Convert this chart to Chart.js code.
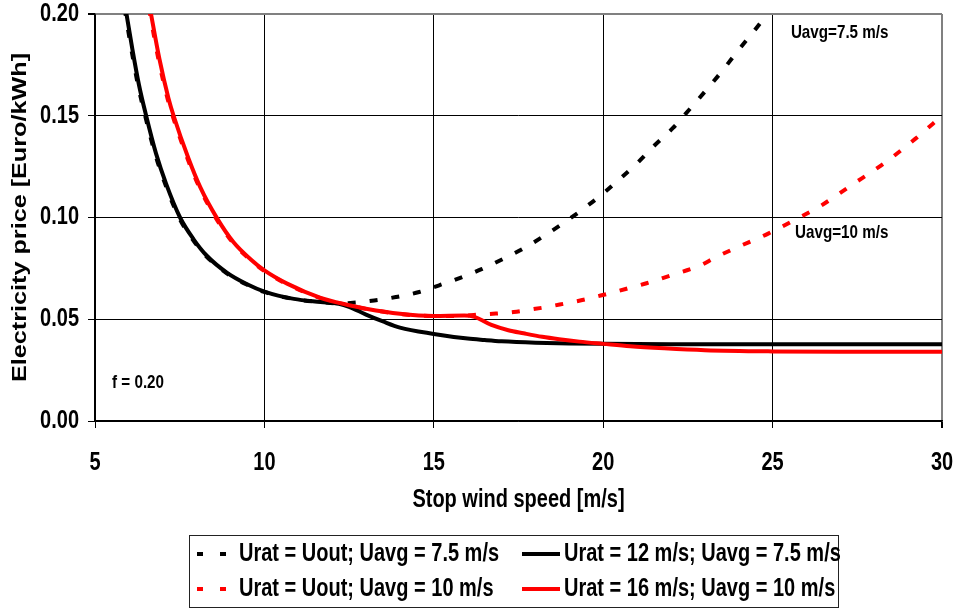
<!DOCTYPE html>
<html>
<head>
<meta charset="utf-8">
<title>Electricity price vs stop wind speed</title>
<script src="https://cdn.jsdelivr.net/npm/chart.js@4.4.1/dist/chart.umd.min.js"></script>
<style>
  body { margin: 0; background: #fff; }
  #wrap { width: 954px; height: 612px; }
</style>
</head>
<body>
<div id="wrap"><canvas id="myChart" width="954" height="612"></canvas></div>
<script>
var face = '"Liberation Sans", Arial, sans-serif';

var seriesLabels = [
  'Urat = Uout; Uavg = 7.5 m/s',
  'Urat = 12 m/s; Uavg = 7.5 m/s',
  'Urat = Uout; Uavg = 10 m/s',
  'Urat = 16 m/s; Uavg = 10 m/s'
];

var xTicks = [5, 10, 15, 20, 25, 30];
var yTicks = [0, 0.05, 0.10, 0.15, 0.20];

// Urat = Uout, Uavg = 7.5 m/s
var speedOut75 = [5.87, 6.07, 6.27, 6.48, 6.77, 7.07, 7.48, 7.88, 8.27, 8.87, 9.46, 9.97, 10.85, 11.64, 12.2, 12.54, 13.24, 13.88, 14.57, 15.16, 15.8, 16.41, 17.03, 17.65, 18.24, 18.83, 19.4, 19.96, 20.48, 21.02, 21.52, 22.06, 22.55, 23.04, 23.53, 23.98, 24.47, 24.75];
var priceOut75 = [0.203, 0.183, 0.165, 0.15, 0.1315, 0.1165, 0.1, 0.0893, 0.0812, 0.0728, 0.0672, 0.0636, 0.06, 0.0585, 0.0578, 0.058, 0.0592, 0.0609, 0.0634, 0.0667, 0.0705, 0.0746, 0.0795, 0.0848, 0.0908, 0.0973, 0.1041, 0.1113, 0.1188, 0.127, 0.1355, 0.144, 0.1532, 0.1626, 0.1724, 0.182, 0.192, 0.198];

// Urat = 12 m/s, Uavg = 7.5 m/s
var speed12 = [5.9, 6.1, 6.3, 6.51, 6.8, 7.1, 7.51, 7.91, 8.3, 8.9, 9.49, 10, 10.87, 11.66, 12.2, 12.5, 13, 13.5, 14, 15, 16, 16.5, 17, 18, 19, 20, 22, 25, 30];
var price12 = [0.203, 0.183, 0.165, 0.15, 0.1315, 0.1165, 0.1, 0.0893, 0.0812, 0.0728, 0.0672, 0.0636, 0.06, 0.0585, 0.0576, 0.0561, 0.0523, 0.0489, 0.0459, 0.0428, 0.0405, 0.0398, 0.0392, 0.0385, 0.0381, 0.0379, 0.0377, 0.0377, 0.0377];

// Urat = Uout, Uavg = 10 m/s
var speedOut10 = [6.59, 6.87, 7.14, 7.29, 7.73, 8.08, 8.57, 9.06, 9.56, 9.97, 10.64, 11.63, 12.5, 13, 14, 15, 15.9, 16.34, 16.83, 17.36, 17.87, 18.36, 18.86, 19.35, 19.84, 20.34, 20.78, 21.28, 22.0, 22.83, 23.34, 23.88, 24.87, 25.86, 26.35, 27.34, 28.32, 29.2, 30];
var priceOut10 = [0.203, 0.178, 0.1585, 0.15, 0.129, 0.1148, 0.0997, 0.0878, 0.0795, 0.074, 0.0675, 0.0605, 0.0568, 0.0551, 0.0526, 0.0516, 0.0518, 0.0523, 0.0528, 0.0536, 0.0548, 0.0561, 0.0577, 0.0593, 0.0613, 0.0634, 0.0654, 0.0677, 0.0716, 0.0762, 0.0806, 0.0848, 0.0921, 0.1006, 0.105, 0.116, 0.127, 0.1385, 0.15];

// Urat = 16 m/s, Uavg = 10 m/s
var speed16 = [6.62, 6.9, 7.17, 7.32, 7.76, 8.11, 8.6, 9.09, 9.59, 10, 10.67, 11.66, 12.5, 13, 14, 15, 15.9, 16.2, 16.7, 17.2, 17.65, 18.2, 18.7, 19.3, 20, 20.8, 21.8, 23, 25, 27, 30];
var price16 = [0.203, 0.178, 0.1585, 0.15, 0.129, 0.1148, 0.0997, 0.0878, 0.0795, 0.074, 0.0675, 0.0605, 0.0569, 0.0552, 0.0527, 0.0516, 0.0518, 0.0512, 0.0472, 0.0446, 0.0431, 0.0414, 0.0402, 0.039, 0.0379, 0.0367, 0.0357, 0.0348, 0.0342, 0.034, 0.034];

function pts(xs, ys) {
  var out = [];
  for (var i = 0; i < xs.length; i++) out.push({x: xs[i], y: ys[i]});
  return out;
}

// bold text squeezed sideways, the axis labels use a condensed look
function squeezed(c, text, x, y, size, align, sx) {
  c.save();
  c.translate(x, y);
  c.scale(sx, 1);
  c.font = 'bold ' + size + 'px ' + face;
  c.textAlign = align;
  c.textBaseline = 'middle';
  c.fillStyle = '#000';
  c.fillText(text, 0, 0);
  c.restore();
}

// text notes inside the plot, placed in data units
var notes = [
  {text: 'Uavg=7.5 m/s', x: 26.98, y: 0.191},
  {text: 'Uavg=10 m/s', x: 27.04, y: 0.0923},
  {text: 'f = 0.20', x: 6.27, y: 0.019}
];

var extras = {
  id: 'extras',
  afterDraw: function(chart) {
    var c = chart.ctx, xs = chart.scales.x, ys = chart.scales.y;
    var area = chart.chartArea;

    xTicks.forEach(function(v) {
      squeezed(c, String(v), xs.getPixelForValue(v), area.bottom + 42, 25, 'center', 0.8);
    });
    yTicks.forEach(function(v) {
      squeezed(c, v.toFixed(2), 79, ys.getPixelForValue(v), 25, 'right', 0.8);
    });
    squeezed(c, 'Stop wind speed [m/s]', (area.left + area.right) / 2, 500, 25, 'center', 0.8);

    notes.forEach(function(n) {
      squeezed(c, n.text, xs.getPixelForValue(n.x), ys.getPixelForValue(n.y), 19, 'center', 0.8);
    });

    // y axis title, stretched a bit along its length
    c.save();
    c.translate(20, (area.top + area.bottom) / 2);
    c.rotate(-Math.PI / 2);
    c.scale(1.2, 1);
    c.font = 'bold 21px ' + face;
    c.textAlign = 'center';
    c.textBaseline = 'middle';
    c.fillStyle = '#000';
    c.fillText('Electricity price [Euro/kWh]', 0, 0);
    c.restore();

    // legend box
    c.save();
    c.strokeStyle = '#222';
    c.lineWidth = 1;
    c.strokeRect(189.5, 535.5, 649, 72);
    var slots = [[197, 554], [522, 554], [197, 589], [522, 589]];
    chart.data.datasets.forEach(function(ds, i) {
      var sx = slots[i][0], sy = slots[i][1];
      c.beginPath();
      c.strokeStyle = ds.borderColor;
      c.lineWidth = 4;
      if (ds.borderDash) {
        c.setLineDash([6, 17]);
        c.moveTo(sx, sy); c.lineTo(sx + 30, sy);
      } else {
        c.setLineDash([]);
        c.moveTo(sx, sy); c.lineTo(sx + 38, sy);
      }
      c.stroke();
      c.setLineDash([]);
      squeezed(c, ds.label, ds.borderDash ? 239 : 564, sy, 25, 'left', 0.8);
    });
    c.restore();
  }
};

var ctx = document.getElementById('myChart');
var myChart = new Chart(ctx, {
  type: 'line',
  data: {
    datasets: [
      {label: seriesLabels[0], data: pts(speedOut75, priceOut75), borderColor: '#000000', borderDash: [8, 14], order: 3},
      {label: seriesLabels[1], data: pts(speed12, price12), borderColor: '#000000', order: 1},
      {label: seriesLabels[2], data: pts(speedOut10, priceOut10), borderColor: '#ff0000', borderDash: [8, 14], order: 2},
      {label: seriesLabels[3], data: pts(speed16, price16), borderColor: '#ff0000', order: 0}
    ]
  },
  options: {
    responsive: false,
    animation: false,
    events: [],
    elements: {
      point: {radius: 0},
      line: {borderWidth: 4, cubicInterpolationMode: 'monotone', borderCapStyle: 'butt', fill: false}
    },
    datasets: {line: {clip: 0}},
    layout: {padding: {top: 14, right: 12, left: 0, bottom: 0}},
    plugins: {legend: {display: false}, tooltip: {enabled: false}},
    scales: {
      x: {
        type: 'linear', min: 5, max: 30,
        afterBuildTicks: function(s) { s.ticks = xTicks.map(function(v) { return {value: v}; }); },
        afterFit: function(s) { s.height = 191; },
        ticks: {display: false},
        grid: {
          color: function(c) { return c.tick && c.tick.value === 30 ? '#808080' : '#000'; },
          lineWidth: function(c) { return c.tick && c.tick.value === 30 ? 2 : 1; },
          tickLength: 7, tickColor: '#000'
        },
        border: {color: '#000', width: 1.5}
      },
      y: {
        min: 0, max: 0.2,
        afterBuildTicks: function(s) { s.ticks = yTicks.map(function(v) { return {value: v}; }); },
        afterFit: function(s) { s.width = 95; },
        ticks: {display: false},
        grid: {
          color: function(c) { return c.tick && c.tick.value === 0.2 ? '#808080' : '#000'; },
          lineWidth: function(c) { return c.tick && c.tick.value === 0.2 ? 2 : 1; },
          tickLength: 7, tickColor: '#000'
        },
        border: {color: '#000', width: 1.5}
      }
    }
  },
  plugins: [extras]
});
</script>
</body>
</html>
